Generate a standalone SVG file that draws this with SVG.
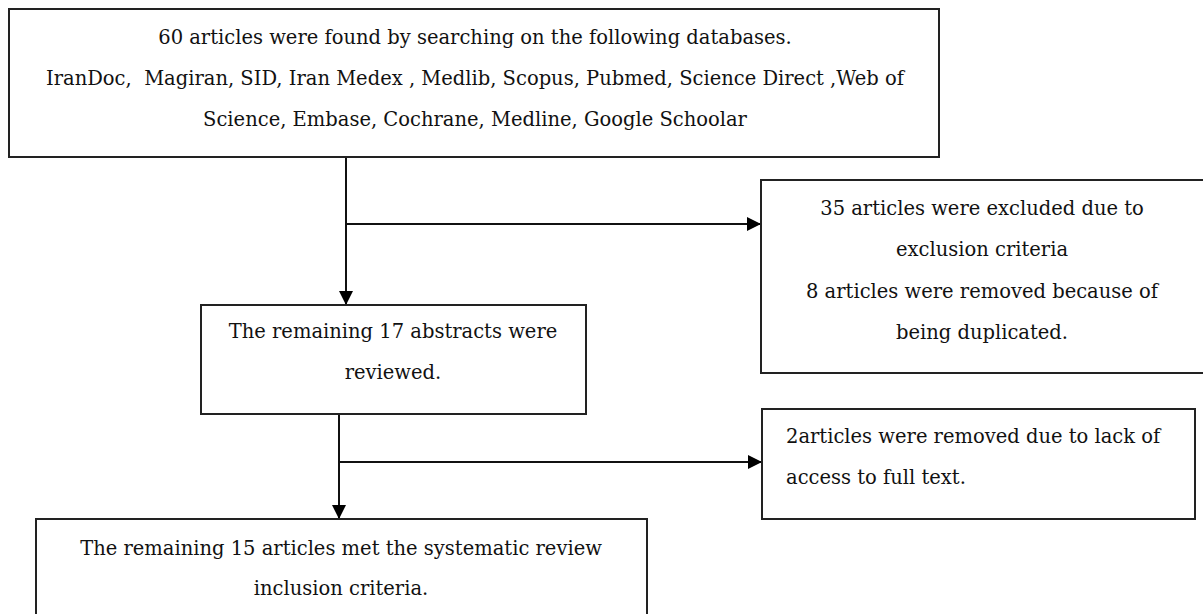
<svg xmlns="http://www.w3.org/2000/svg" width="1203" height="614" viewBox="0 0 1203 614">
<style>
.box{fill:#fff;stroke:#222;stroke-width:2}
.t{font-family:"DejaVu Serif","Liberation Serif",serif;font-size:19.5px;fill:#111}
.c{text-anchor:middle}
.ln{fill:none;stroke:#111;stroke-width:2}
</style>
<defs>
<marker id="a" viewBox="0 0 14 14" refX="14" refY="7" markerWidth="14" markerHeight="14" markerUnits="userSpaceOnUse" orient="auto">
<path d="M0,0 L14,7 L0,14 z" fill="#000"/>
</marker>
</defs>
<rect width="1203" height="614" fill="#fff"/>
<g id="connectors">
<line class="ln" x1="346" y1="157" x2="346" y2="305" marker-end="url(#a)"/>
<line class="ln" x1="346" y1="224" x2="761" y2="224" marker-end="url(#a)"/>
<line class="ln" x1="339" y1="414" x2="339" y2="519" marker-end="url(#a)"/>
<line class="ln" x1="339" y1="462" x2="762" y2="462" marker-end="url(#a)"/>
</g>
<g id="n1">
<rect class="box" x="9" y="9" width="930" height="148"/>
<text class="t c" x="475" y="44">60 articles were found by searching on the following databases.</text>
<text class="t c" x="475" y="85" xml:space="preserve">IranDoc,  Magiran, SID, Iran Medex , Medlib, Scopus, Pubmed, Science Direct ,Web of</text>
<text class="t c" x="475" y="126">Science, Embase, Cochrane, Medline, Google Schoolar</text>
</g>
<g id="n2">
<rect class="box" x="201" y="305" width="385" height="109"/>
<text class="t c" x="393" y="338">The remaining 17 abstracts were</text>
<text class="t c" x="393" y="379">reviewed.</text>
</g>
<g id="n3">
<rect class="box" x="761" y="180" width="443" height="193"/>
<text class="t c" x="982" y="215">35 articles were excluded due to</text>
<text class="t c" x="982" y="256">exclusion criteria</text>
<text class="t c" x="982" y="298">8 articles were removed because of</text>
<text class="t c" x="982" y="339">being duplicated.</text>
</g>
<g id="n4">
<rect class="box" x="762" y="409" width="433" height="110"/>
<text class="t" x="786" y="443">2articles were removed due to lack of</text>
<text class="t" x="786" y="484">access to full text.</text>
</g>
<g id="n5">
<rect class="box" x="36" y="519" width="611" height="100"/>
<text class="t c" x="341" y="555">The remaining 15 articles met the systematic review</text>
<text class="t c" x="341" y="595">inclusion criteria.</text>
</g>
</svg>
